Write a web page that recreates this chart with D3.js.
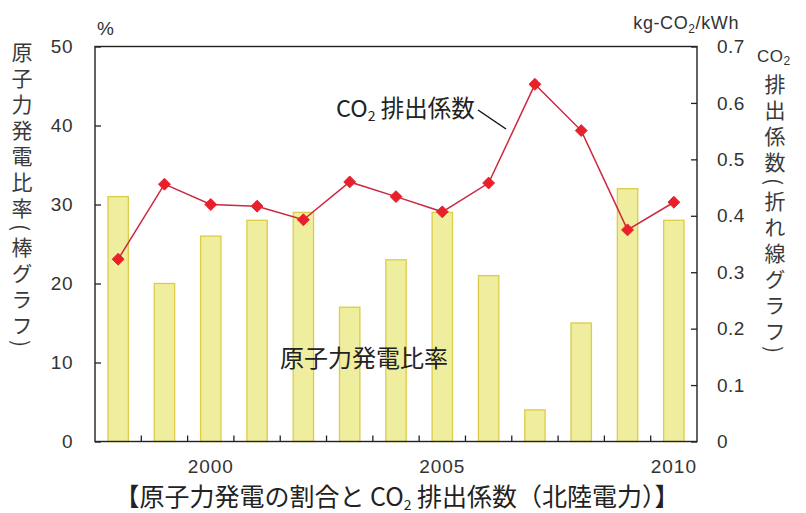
<!DOCTYPE html>
<html>
<head>
<meta charset="utf-8">
<script src="https://cdn.jsdelivr.net/npm/d3@7"></script>
<style>
	body { margin: 0; background: #fff; }
	text { font-family: "Liberation Sans", Arial, "Noto Sans CJK JP", sans-serif; }
	.jp { font-family: "Noto Sans CJK JP", sans-serif; }
</style>
</head>
<body>
<div id="chart"></div>
<script>
// years on the x axis
var years = [1998, 1999, 2000, 2001, 2002, 2003, 2004, 2005, 2006, 2007, 2008, 2009, 2010];
// nuclear share of generation, % (bars)
var nuclearShare = [31, 20, 26, 28, 29, 17, 23, 29, 21, 4, 15, 32, 28];
// CO2 emission factor, kg-CO2/kWh (line)
var co2Factor = [0.323, 0.456, 0.420, 0.417, 0.393, 0.460, 0.434, 0.407, 0.458, 0.633, 0.551, 0.375, 0.424];
var yearLabels = [2000, 2005, 2010];
var leftTicks = [0, 10, 20, 30, 40, 50];
var rightTicks = [0, 0.1, 0.2, 0.3, 0.4, 0.5, 0.6, 0.7];

var width = 806, height = 513;
var plot = {left: 95, right: 697, top: 46.5, bottom: 441.5};

var svg = d3.select("#chart").append("svg")
	.attr("width", width)
	.attr("height", height);

var x = d3.scaleBand()
	.domain(years)
	.range([plot.left, plot.right])
	.paddingInner(0.56)
	.paddingOuter(0.28);

var yLeft = d3.scaleLinear().domain([0, 50]).range([plot.bottom, plot.top]);
var yRight = d3.scaleLinear().domain([0, 0.7]).range([plot.bottom, plot.top]);

function cx(year) { return x(year) + x.bandwidth() / 2; }

// bars
svg.append("g")
	.selectAll("rect")
	.data(years)
	.enter()
		.append("rect")
			.attr("x", function(d) { return x(d); })
			.attr("y", function(d, i) { return yLeft(nuclearShare[i]); })
			.attr("width", x.bandwidth())
			.attr("height", function(d, i) { return plot.bottom - yLeft(nuclearShare[i]); })
			.attr("fill", "#efee9e")
			.attr("stroke", "#dccc48")
			.attr("stroke-width", 1.3);

// frame
svg.append("rect")
	.attr("x", plot.left)
	.attr("y", plot.top)
	.attr("width", plot.right - plot.left)
	.attr("height", plot.bottom - plot.top)
	.attr("fill", "none")
	.attr("stroke", "#222")
	.attr("stroke-width", 1.4);

// left axis, ticks pointing inward
var axisL = svg.append("g")
	.attr("transform", "translate(" + plot.left + ",0)")
	.call(d3.axisLeft(yLeft).tickValues(leftTicks).tickSize(-6).tickPadding(22).tickFormat(d3.format("d")));

var axisR = svg.append("g")
	.attr("transform", "translate(" + plot.right + ",0)")
	.call(d3.axisRight(yRight).tickValues(rightTicks).tickSize(-6).tickPadding(20)
		.tickFormat(function(d) { return d === 0 ? "0" : d3.format(".1f")(d); }));

[axisL, axisR].forEach(function(a)
	{
		a.select(".domain").remove();
		a.selectAll(".tick line").attr("stroke", "#222").attr("stroke-width", 1.3);
		a.selectAll(".tick text")
			.attr("fill", "#333")
			.style("font-size", "19px")
			.style("letter-spacing", "0.5px")
			.style("font-family", "Liberation Sans, Arial, sans-serif");
	}
);

// x axis ticks between categories, pointing up
var boundaries = years.slice(1).map(function(d) { return x(d) - (x.step() - x.bandwidth()) / 2; });
svg.append("g")
	.selectAll("line")
	.data(boundaries)
	.enter()
		.append("line")
			.attr("x1", function(d) { return d; })
			.attr("x2", function(d) { return d; })
			.attr("y1", plot.bottom)
			.attr("y2", plot.bottom - 6)
			.attr("stroke", "#222")
			.attr("stroke-width", 1.3);

svg.append("g")
	.selectAll("text")
	.data(yearLabels)
	.enter()
		.append("text")
			.attr("x", function(d) { return cx(d); })
			.attr("y", 473)
			.attr("text-anchor", "middle")
			.attr("fill", "#333")
			.style("font-size", "19px")
			.style("letter-spacing", "1px")
			.text(function(d) { return d; });

// CO2 line
var line = d3.line()
	.x(function(d) { return cx(d); })
	.y(function(d, i) { return yRight(co2Factor[i]); });

svg.append("path")
	.datum(years)
	.attr("d", line)
	.attr("fill", "none")
	.attr("stroke", "#cc2840")
	.attr("stroke-width", 1.5);

svg.append("g")
	.selectAll("path")
	.data(years)
	.enter()
		.append("path")
			.attr("d", d3.symbol().type(d3.symbolDiamond2).size(90))
			.attr("transform", function(d, i) { return "translate(" + cx(d) + "," + yRight(co2Factor[i]) + ")"; })
			.attr("fill", "#e8202a")
			.attr("stroke", "#e8202a")
			.attr("stroke-width", 1);

// unit labels
svg.append("text")
	.attr("x", 97)
	.attr("y", 35)
	.attr("fill", "#333")
	.style("font-size", "19px")
	.text("%");

var unitR = svg.append("text")
	.attr("x", 739)
	.attr("y", 29)
	.attr("text-anchor", "end")
	.attr("fill", "#333")
	.style("font-size", "18px")
	.style("letter-spacing", "0.6px");
unitR.append("tspan").text("kg-CO");
unitR.append("tspan").attr("dy", 4).style("font-size", "12px").text("2");
unitR.append("tspan").attr("dy", -4).text("/kWh");

// vertical axis titles
svg.append("text")
	.attr("class", "jp")
	.attr("x", 22)
	.attr("y", 42)
	.attr("fill", "#3a3a3a")
	.style("font-size", "21px")
	.style("writing-mode", "vertical-rl")
	.style("letter-spacing", "5px")
	.text("原子力発電比率(棒グラフ)");

var co2R = svg.append("text")
	.attr("x", 757)
	.attr("y", 62)
	.attr("fill", "#333")
	.style("font-size", "17px")
	.style("letter-spacing", "0.5px");
co2R.append("tspan").text("CO");
co2R.append("tspan").attr("dy", 3).style("font-size", "12px").text("2");

svg.append("text")
	.attr("class", "jp")
	.attr("x", 775)
	.attr("y", 74)
	.attr("fill", "#3a3a3a")
	.style("font-size", "21px")
	.style("writing-mode", "vertical-rl")
	.style("letter-spacing", "5px")
	.text("排出係数(折れ線グラフ)");

// annotations
var ann = svg.append("text")
	.attr("class", "jp")
	.attr("x", 336)
	.attr("y", 117)
	.attr("fill", "#222")
	.style("font-size", "23.5px");
ann.append("tspan").text("CO");
ann.append("tspan").attr("dy", 4).style("font-size", "14px").text("2");
ann.append("tspan").attr("dy", -4).text(" 排出係数");

svg.append("line")
	.attr("x1", 478).attr("y1", 110)
	.attr("x2", 506).attr("y2", 129)
	.attr("stroke", "#111")
	.attr("stroke-width", 1.5);

svg.append("text")
	.attr("class", "jp")
	.attr("x", 280)
	.attr("y", 367)
	.attr("fill", "#222")
	.style("font-size", "24px")
	.text("原子力発電比率");

// caption
var cap = svg.append("text")
	.attr("class", "jp")
	.attr("x", 397)
	.attr("y", 506)
	.attr("text-anchor", "middle")
	.attr("fill", "#222")
	.style("font-size", "25px");
cap.append("tspan").text("【原子力発電の割合と CO");
cap.append("tspan").attr("dy", 4).style("font-size", "14px").text("2");
cap.append("tspan").attr("dy", -4).text(" 排出係数（北陸電力）】");
</script>
</body>
</html>
